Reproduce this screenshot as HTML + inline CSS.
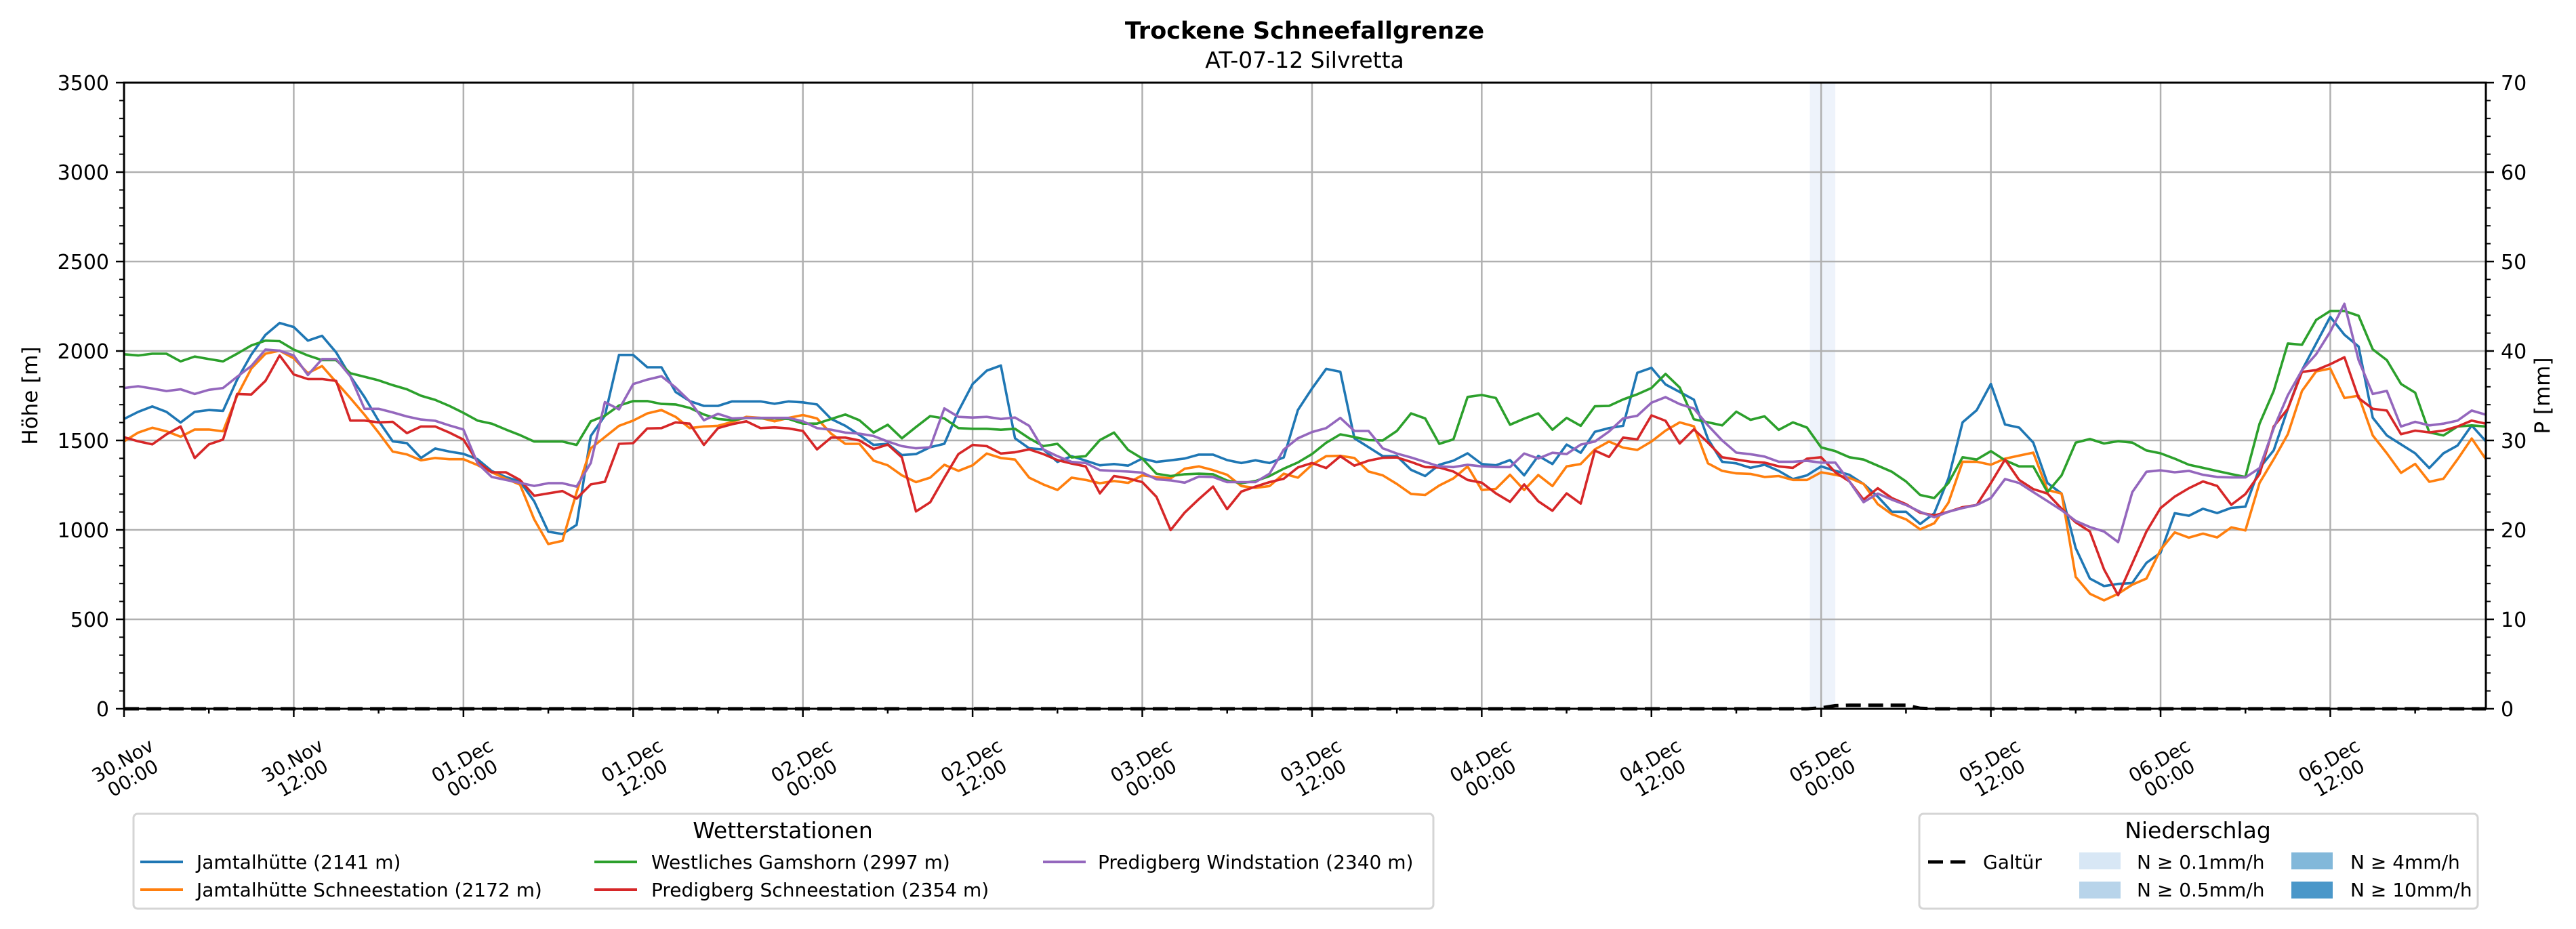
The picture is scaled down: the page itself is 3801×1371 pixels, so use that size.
<!DOCTYPE html>
<html><head><meta charset="utf-8">
<style>
html,body{margin:0;padding:0;background:#fff;}
svg{display:block;font-family:"DejaVu Sans","Liberation Sans",sans-serif;}
</style></head>
<body>
<svg id="chart" width="3801" height="1371" viewBox="0 0 3801 1371" xmlns="http://www.w3.org/2000/svg">
<rect x="0" y="0" width="3801" height="1371" fill="#fff"/>
<text x="1925" y="57" text-anchor="middle" font-size="35" font-weight="bold">Trockene Schneefallgrenze</text>
<text x="1925" y="100" text-anchor="middle" font-size="33">AT-07-12 Silvretta</text>
<g id="plot"></g>
<text transform="translate(55,584) rotate(-90)" text-anchor="middle" font-size="31">Höhe [m]</text>
<text transform="translate(3762,584) rotate(-90)" text-anchor="middle" font-size="31">P [mm]</text>

<g>
<rect x="197" y="1201" width="1918" height="140" rx="6" fill="#fff" stroke="#d5d5d5" stroke-width="3"/>
<text x="1155" y="1237" text-anchor="middle" font-size="33">Wetterstationen</text>
<g font-size="28">
<g><line x1="207" y1="1272" x2="270" y2="1272" stroke="#1f77b4" stroke-width="4"/><text x="290" y="1282">Jamtalhütte (2141 m)</text></g>
<g><line x1="207" y1="1313" x2="270" y2="1313" stroke="#ff7f0e" stroke-width="4"/><text x="290" y="1323">Jamtalhütte Schneestation (2172 m)</text></g>
<g><line x1="877" y1="1272" x2="940" y2="1272" stroke="#2ca02c" stroke-width="4"/><text x="961" y="1282">Westliches Gamshorn (2997 m)</text></g>
<g><line x1="877" y1="1313" x2="940" y2="1313" stroke="#d62728" stroke-width="4"/><text x="961" y="1323">Predigberg Schneestation (2354 m)</text></g>
<g><line x1="1539" y1="1272" x2="1602" y2="1272" stroke="#9467bd" stroke-width="4"/><text x="1620" y="1282">Predigberg Windstation (2340 m)</text></g>
</g>
</g>

<g>
<rect x="2832" y="1201" width="824" height="140" rx="6" fill="#fff" stroke="#d5d5d5" stroke-width="3"/>
<text x="3243" y="1237" text-anchor="middle" font-size="33">Niederschlag</text>
<g font-size="28">
<g><line x1="2845" y1="1272" x2="2900" y2="1272" stroke="#000" stroke-width="5" stroke-dasharray="22,11"/><text x="2926" y="1282">Galtür</text></g>
<g><rect x="3068" y="1258" width="61" height="25" fill="#d8e7f5"/><text x="3153" y="1282">N ≥ 0.1mm/h</text></g>
<g><rect x="3068" y="1301" width="61" height="25" fill="#b8d4ea"/><text x="3153" y="1323">N ≥ 0.5mm/h</text></g>
<g><rect x="3381" y="1258" width="61" height="25" fill="#82b8da"/><text x="3468" y="1282">N ≥ 4mm/h</text></g>
<g><rect x="3381" y="1301" width="61" height="25" fill="#4a97c9"/><text x="3468" y="1323">N ≥ 10mm/h</text></g>
</g>
</g>
</svg>
<script>
const hourStart = 0;
const hourEnd = 167;
const yTicks = [0,500,1000,1500,2000,2500,3000,3500];
const y2Ticks = [0,10,20,30,40,50,60,70];
const xTickHours = [0,12,24,36,48,60,72,84,96,108,120,132,144,156];
const xTickDates = ["30.Nov","30.Nov","01.Dec","01.Dec","02.Dec","02.Dec","03.Dec","03.Dec","04.Dec","04.Dec","05.Dec","05.Dec","06.Dec","06.Dec"];
const xTickTimes = ["00:00","12:00","00:00","12:00","00:00","12:00","00:00","12:00","00:00","12:00","00:00","12:00","00:00","12:00"];
const seriesNames = ["jamtalhuette","jamtalhuette-schneestation","westliches-gamshorn","predigberg-schneestation","predigberg-windstation"];
const seriesColors = ["#1f77b4","#ff7f0e","#2ca02c","#d62728","#9467bd"];
const jamtal = [1620,1660,1690,1660,1600,1660,1670,1665,1840,1980,2090,2157,2134,2058,2085,1992,1859,1743,1610,1495,1485,1402,1455,1438,1425,1395,1329,1296,1270,
1160,990,977,1028,1525,1638,1978,1978,1909,1909,1771,1720,1693,1693,1718,1718,1718,1705,1718,1713,1701,1620,1582,1531,1475,1481,1418,1424,1462,1481,1664,1815,1890,1919,1512,1456,1450,1380,1412,
1387,1361,1368,1359,1399,1380,1389,1399,1421,1421,1390,1374,1389,1374,1405,1670,1790,1900,1884,1512,1462,1412,1412,1336,1301,1364,1387,1428,1368,1361,1390,1305,1414,1368,1477,1431,1548,1569,1582,1878,
1906,1813,1771,1728,1508,1381,1372,1347,1364,1330,1284,1305,1355,1330,1308,1257,1186,1101,1101,1033,1093,1288,1601,1669,1816,1589,1572,1488,1262,1203,898,728,686,698,703,816,872,1093,1079,1118,
1094,1123,
1130,1346,1445,1677,1893,2042,2191,2091,2025,1627,1528,1478,1428,1346,1428,1472,1584,1495];
const jamtalSchnee = [1495,1544,1571,1551,1521,1561,1561,1551,1750,1902,1985,2002,1959,1876,1916,1826,1737,1644,1544,1438,1422,1389,1402,1395,1395,1362,1322,1286,1253,
1059,921,939,1210,1456,1519,1582,1611,1651,1670,1632,1569,1578,1582,1603,1632,1626,1607,1626,1642,1623,1538,1481,1481,1387,1361,1305,1267,1292,1364,1330,1361,1427,1402,1393,1292,1254,1223,1292,
1279,1261,1273,1263,1305,1295,1288,1342,1355,1334,1308,1245,1235,1245,1314,1292,1364,1412,1414,1402,1326,1305,1257,1201,1195,1248,1288,1355,1223,1229,1308,1223,1307,1245,1355,1368,1450,1494,1460,1447,
1494,1555,1601,1579,1372,1330,1316,1313,1296,1301,1279,1279,1322,1308,1291,1257,1144,1088,1059,1003,1037,1152,1381,1381,1364,1398,1415,1432,1223,1203,737,643,606,643,694,728,889,986,957,979,
958,1014,
997,1263,1395,1535,1777,1886,1902,1737,1750,1528,1428,1319,1369,1269,1286,1395,1511,1395];
const gamshorn = [1982,1975,1985,1985,1942,1969,1955,1942,1985,2031,2058,2055,2008,1975,1949,1949,1876,1856,1836,1809,1786,1750,1727,1693,1654,1611,1594,1561,1530,
1494,1494,1494,1475,1607,1638,1695,1720,1720,1704,1701,1682,1645,1620,1613,1626,1623,1623,1620,1594,1594,1620,1645,1613,1544,1588,1512,1575,1636,1623,1569,1565,1565,1560,1565,1512,1468,1481,1405,
1412,1502,1544,1447,1399,1314,1301,1311,1314,1311,1276,1261,1273,1301,1342,1377,1424,1487,1534,1519,1502,1500,1553,1651,1623,1481,1506,1743,1754,1737,1588,1622,1651,1560,1626,1582,1691,1693,1729,1758,
1793,1872,1796,1618,1601,1584,1661,1615,1635,1559,1601,1572,1461,1440,1406,1393,1359,1325,1271,1195,1178,1262,1406,1393,1440,1389,1355,1355,1211,1305,1488,1508,1483,1496,1488,1444,1428,1398,1364,1347,
1329,1312,
1296,1594,1777,2042,2035,2174,2224,2224,2197,2009,1949,1816,1767,1545,1528,1578,1584,1578];
const predigSchnee = [1518,1495,1478,1534,1578,1402,1478,1505,1760,1757,1833,1975,1869,1843,1843,1833,1611,1611,1601,1604,1541,1578,1578,1544,1505,1379,1322,1322,1279,
1191,1204,1217,1175,1254,1269,1481,1485,1567,1569,1601,1594,1475,1569,1591,1607,1569,1573,1567,1553,1450,1516,1516,1500,1452,1477,1405,1103,1154,1292,1424,1475,1468,1427,1434,1450,1424,1390,1371,
1355,1204,1301,1288,1267,1185,999,1097,1172,1242,1116,1214,1242,1267,1286,1349,1374,1346,1412,1359,1387,1403,1405,1380,1351,1349,1326,1279,1264,1204,1157,1254,1160,1107,1204,1147,1443,1408,1516,1506,
1640,1610,1483,1562,1488,1406,1393,1381,1376,1355,1347,1398,1406,1322,1271,1169,1233,1178,1144,1096,1081,1101,1127,1139,1262,1393,1279,1228,1203,1118,1042,991,779,635,813,991,1122,1186,1233,1271,
1246,1140,
1200,1312,1578,1677,1883,1893,1926,1965,1737,1677,1667,1535,1555,1545,1555,1578,1611,1594];
const predigWind = [1793,1803,1790,1776,1786,1760,1783,1793,1856,1916,2008,2002,1975,1866,1955,1955,1859,1677,1677,1657,1634,1617,1610,1584,1561,1372,1296,1279,1263,
1246,1261,1261,1242,1374,1714,1674,1815,1840,1859,1796,1720,1613,1649,1623,1626,1626,1626,1626,1607,1569,1560,1544,1538,1525,1494,1468,1456,1462,1679,1632,1628,1632,1620,1628,1582,1450,1412,1380,
1374,1334,1330,1326,1320,1283,1277,1264,1298,1296,1267,1267,1267,1314,1449,1512,1547,1569,1626,1553,1553,1456,1427,1405,1380,1355,1351,1364,1355,1351,1351,1427,1399,1431,1424,1477,1494,1550,1623,1638,
1711,1742,1703,1678,1584,1500,1432,1423,1410,1381,1381,1386,1376,1376,1271,1155,1203,1169,1139,1101,1071,1101,1122,1139,1178,1284,1262,1211,1161,1110,1050,1016,991,932,1211,1325,1333,1322,1330,1308,
1296,1293,
1293,1346,1568,1753,1893,1982,2108,2264,1949,1760,1777,1578,1604,1584,1594,1611,1667,1644];
const precipHours = [118,119,120,121,122,123,124,125,126,127,128];
const precipValues = [0,0,0.1,0.35,0.4,0.4,0.4,0.4,0.4,0.05,0];
const precipBandStart = [119.2];
const precipBandEnd = [121.0];

const NS = "http://www.w3.org/2000/svg";
const L = 183, R = 3668, T = 122, B = 1046;
function xs(h){ return L + (h - hourStart) / (hourEnd - hourStart) * (R - L); }
function ys(v){ return B - v / 3500 * (B - T); }
function yp(p){ return B - p / 70 * (B - T); }
function mk(tag, attrs, parent){ const e = document.createElementNS(NS, tag); for (const k in attrs) e.setAttribute(k, attrs[k]); parent.appendChild(e); return e; }
const plot = document.getElementById('plot');

for (let i = 0; i < precipBandStart.length; i++) {
  const r = mk('rect', {x: xs(precipBandStart[i]), y: T, width: xs(precipBandEnd[i]) - xs(precipBandStart[i]), height: B - T, fill: '#eef3fb'}, plot);
  
  
}
for (const v of yTicks) {
  const g = mk('line', {x1: L, x2: R, y1: ys(v), y2: ys(v), stroke: '#b0b0b0', 'stroke-width': 2.5}, plot);
  
  
}
for (const h of xTickHours) {
  const g = mk('line', {x1: xs(h), x2: xs(h), y1: T, y2: B, stroke: '#b0b0b0', 'stroke-width': 2.5}, plot);
  
  
}
const allSeries = [jamtal, jamtalSchnee, gamshorn, predigSchnee, predigWind];
allSeries.forEach((arr, si) => {
  let d = '';
  arr.forEach((v, i) => { d += (i ? 'L' : 'M') + xs(hourStart + i).toFixed(1) + ',' + ys(v).toFixed(1); });
  const p = mk('path', {d: d, fill: 'none', stroke: seriesColors[si], 'stroke-width': 3.6, 'stroke-linejoin': 'round'}, plot);
  
  
});
{
  let d = 'M' + xs(hourStart) + ',' + yp(0);
  precipHours.forEach((h, i) => { d += 'L' + xs(h).toFixed(1) + ',' + yp(precipValues[i]).toFixed(1); });
  d += 'L' + xs(hourEnd) + ',' + yp(0);
  const p = mk('path', {d: d, fill: 'none', stroke: '#000', 'stroke-width': 5, 'stroke-dasharray': '22,11'}, plot);
  
  
}
const frame = mk('rect', {x: L, y: T, width: R - L, height: B - T, fill: 'none', stroke: '#000', 'stroke-width': 3}, plot);


for (let v = 0; v <= 3500; v += 100) {
  const major = v % 500 === 0;
  mk('line', {x1: L, x2: L - (major ? 12 : 7), y1: ys(v), y2: ys(v), stroke: '#000', 'stroke-width': major ? 2.5 : 2}, plot);
}
yTicks.forEach(v => {
  const t = mk('text', {x: L - 22, y: ys(v) + 11, 'text-anchor': 'end', 'font-size': 30}, plot);
  t.textContent = String(v);
  
  
});
for (let p = 0; p <= 70; p += 2) {
  const major = p % 10 === 0;
  mk('line', {x1: R, x2: R + (major ? 12 : 7), y1: yp(p), y2: yp(p), stroke: '#000', 'stroke-width': major ? 2.5 : 2}, plot);
}
y2Ticks.forEach(p => {
  const t = mk('text', {x: R + 22, y: yp(p) + 11, 'text-anchor': 'start', 'font-size': 30}, plot);
  t.textContent = String(p);
  
  
});
for (let h = 0; h <= hourEnd; h += 6) {
  const major = h % 12 === 0;
  mk('line', {x1: xs(h), x2: xs(h), y1: B, y2: B + (major ? 12 : 7), stroke: '#000', 'stroke-width': 2.5}, plot);
}
xTickHours.forEach((h, i) => {
  const g = mk('g', {transform: 'translate(' + (xs(h) + 6).toFixed(1) + ',1136) rotate(-30)'}, plot);
  
  
  const t1 = mk('text', {x: 0, y: -6, 'text-anchor': 'middle', 'font-size': 28}, g);
  t1.textContent = xTickDates[i];
  const t2 = mk('text', {x: 0, y: 24, 'text-anchor': 'middle', 'font-size': 28}, g);
  t2.textContent = xTickTimes[i];
});
</script>
</body></html>
